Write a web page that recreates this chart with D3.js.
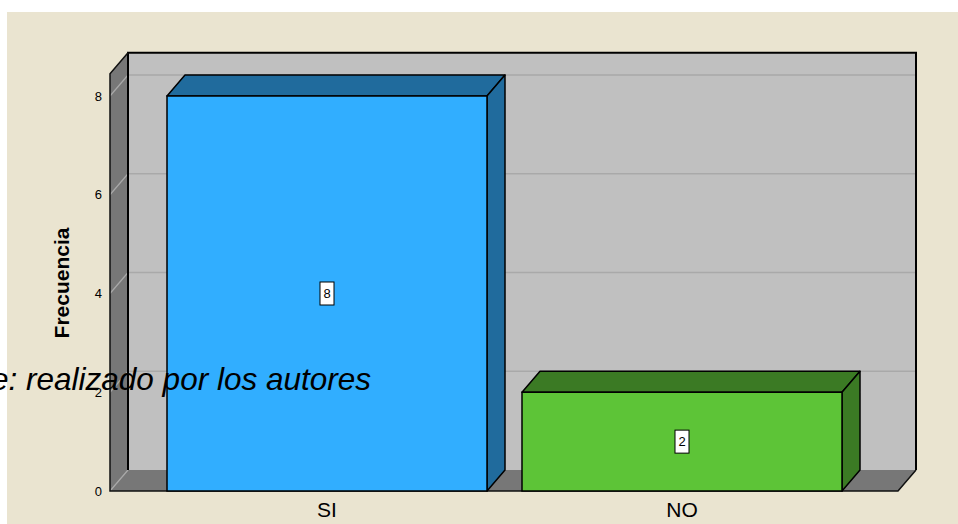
<!DOCTYPE html>
<html>
<head>
<meta charset="utf-8">
<script src="https://cdn.jsdelivr.net/npm/d3@7"></script>
<style>
  body { margin: 0; background: #fff; }
  text { font-family: "Liberation Sans", Arial, sans-serif; }
</style>
</head>
<body>
<script>
const categories = ["SI", "NO"];
const values = [8, 2];
const yTicks = [0, 2, 4, 6, 8];
const yTitle = "Frecuencia";
const sourceNote = "Fuente: realizado por los autores";

const frontColors = ["#31aeff", "#5dc437"];
const darkColors = ["#206b9d", "#3b7a24"];

const w = 958, h = 524;
const dx = 18, dy = 21;       // depth of the 3D box
const left = 110, right = 898, base = 491;

const svg = d3.select("body").append("svg")
  .attr("width", w)
  .attr("height", h);

svg.append("rect").attr("x", 7).attr("y", 12).attr("width", w - 7).attr("height", h - 12)
  .attr("fill", "#eae4d0");

const y = d3.scaleLinear().domain([0, 8.45]).range([base, base - 8.45 * 49.375]);
const x = d3.scaleBand().domain(categories)
  .range([149.5, 859.5])
  .paddingInner(0.0986)
  .paddingOuter(0.0493);

const yTop = y(y.domain()[1]);

// back wall
svg.append("rect")
  .attr("x", left + dx).attr("y", yTop - dy)
  .attr("width", right - left).attr("height", base - yTop)
  .attr("fill", "#c0c0c0");

// left wall
svg.append("polygon")
  .attr("points", [[left, yTop], [left + dx, yTop - dy], [left + dx, base - dy], [left, base]].join(" "))
  .attr("fill", "#777777");

// floor
svg.append("polygon")
  .attr("points", [[left, base], [left + dx, base - dy], [right + dx, base - dy], [right, base]].join(" "))
  .attr("fill", "#777777");

// grid lines
yTicks.forEach(t => {
  if (t > 0) {
    svg.append("line")
      .attr("x1", left + dx).attr("x2", right + dx)
      .attr("y1", y(t) - dy).attr("y2", y(t) - dy)
      .attr("stroke", "#a9a9a9").attr("stroke-width", 1.5);
  }
  svg.append("line")
    .attr("x1", left).attr("y1", y(t))
    .attr("x2", left + dx).attr("y2", y(t) - dy)
    .attr("stroke", "#a9a9a9").attr("stroke-width", 1.2);
});

// edges
svg.append("path")
  .attr("d", `M${left + dx},${base - dy}V${yTop - dy}H${right + dx}V${base - dy}`)
  .attr("fill", "none").attr("stroke", "#000").attr("stroke-width", 2);
svg.append("path")
  .attr("d", `M${left + dx},${yTop - dy}L${left},${yTop}V${base}H${right}L${right + dx},${base - dy}`)
  .attr("fill", "none").attr("stroke", "#111").attr("stroke-width", 1.5);

// bars
const bars = svg.selectAll("g.bar")
  .data(categories.map((c, i) => ({ c, v: values[i], i })))
  .enter().append("g").attr("class", "bar");

const bw = x.bandwidth();

bars.append("polygon")
  .attr("points", d => {
    const x0 = x(d.c), yt = y(d.v);
    return [[x0, yt], [x0 + dx, yt - dy], [x0 + bw + dx, yt - dy], [x0 + bw, yt]].join(" ");
  })
  .attr("fill", d => darkColors[d.i]).attr("stroke", "#000").attr("stroke-width", 1.5)
  .attr("stroke-linejoin", "round");

bars.append("polygon")
  .attr("points", d => {
    const x1 = x(d.c) + bw, yt = y(d.v);
    return [[x1, yt], [x1 + dx, yt - dy], [x1 + dx, base - dy], [x1, base]].join(" ");
  })
  .attr("fill", d => darkColors[d.i]).attr("stroke", "#000").attr("stroke-width", 1.5)
  .attr("stroke-linejoin", "round");

bars.append("rect")
  .attr("x", d => x(d.c)).attr("y", d => y(d.v))
  .attr("width", bw).attr("height", d => base - y(d.v))
  .attr("fill", d => frontColors[d.i]).attr("stroke", "#000").attr("stroke-width", 1.5);

// value labels
bars.append("rect")
  .attr("x", d => x(d.c) + bw / 2 - 7)
  .attr("y", d => (y(d.v) + base) / 2 - 11.5)
  .attr("width", 14).attr("height", 23)
  .attr("fill", "#fff").attr("stroke", "#000").attr("stroke-width", 1);

bars.append("text")
  .attr("x", d => x(d.c) + bw / 2)
  .attr("y", d => (y(d.v) + base) / 2)
  .attr("dy", "0.35em")
  .attr("text-anchor", "middle")
  .attr("font-size", 13)
  .text(d => d.v);

// axes
const yAxis = d3.axisLeft(y).tickValues(yTicks).tickSize(0).tickPadding(8);
const gy = svg.append("g").attr("transform", `translate(${left},0)`).call(yAxis);
gy.select(".domain").remove();
gy.selectAll("text").attr("font-size", 13).attr("font-family", "Liberation Sans, Arial, sans-serif").attr("fill", "#000");

const xAxis = d3.axisBottom(x).tickSize(0).tickPadding(11);
const gx = svg.append("g").attr("transform", `translate(0,${base})`).call(xAxis);
gx.select(".domain").remove();
gx.selectAll("text").attr("font-size", 21).attr("font-family", "Liberation Sans, Arial, sans-serif").attr("fill", "#000");

svg.append("text")
  .attr("transform", "translate(69,283) rotate(-90)")
  .attr("text-anchor", "middle")
  .attr("font-size", 21).attr("font-weight", "bold")
  .text(yTitle);

svg.append("text")
  .attr("x", 371).attr("y", 390)
  .attr("text-anchor", "end")
  .attr("font-size", 31.5).attr("font-style", "italic")
  .text(sourceNote);
</script>
</body>
</html>
